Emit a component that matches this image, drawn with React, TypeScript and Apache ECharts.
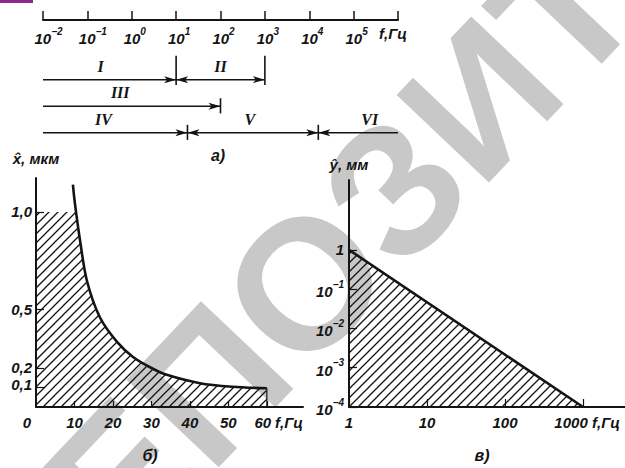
import React, { useEffect, useRef } from 'react';
import * as echarts from 'echarts';

const W = 625;
const H = 468;
const INK = '#141414';
const FONT = 'Liberation Sans';

// ---- Panel а: frequency ranges on a log axis ----
const rangeNames = ['I', 'II', 'III', 'IV', 'V', 'VI'];
const rangeFrom = [0.01, 10, 0.01, 0.01, 18, 16000];
const rangeTo = [10, 1000, 100, 18, 16000, 1e6];
const rangeRow = [1, 1, 2, 3, 3, 3];
const arrowAtFrom = [0, 1, 0, 0, 1, 1];
const arrowAtTo = [1, 1, 1, 1, 1, 0];
const nameAt = [0.2, 100, 0.55, 0.23, 460, 230000];
const boundaryF = [10, 1000, 100, 18, 16000];
const boundaryRow = [1, 1, 2, 3, 3];

// ---- Panel б: amplitude x̂ (мкм) vs f (Гц) ----
const curveF = [9.6, 9.9, 10.4, 11.4, 13.2, 16.6, 21, 25.3, 30, 34, 42.6, 51, 60];
const curveX = [1.14, 1.08, 1.0, 0.86, 0.65, 0.46, 0.335, 0.255, 0.2, 0.165, 0.122, 0.104, 0.096];
const capX = 1.0;
const bLabelsX = [0, 10, 20, 30, 40, 50, 60];
const bTicksX = [10, 20, 30, 40, 50, 60];
const bTicksY = [0.1, 0.2, 0.5, 1.0];

// ---- Panel в: amplitude ŷ (мм) vs f (Гц), log-log ----
const lineF = [1, 1000];
const lineY = [1, 1e-4];

const FS = 15;
const lbl = { fontFamily: FONT, fontStyle: 'italic', fontWeight: 'bold', color: INK } as any;

const rich: any = {
  b: { ...lbl, fontSize: FS, lineHeight: 20, verticalAlign: 'bottom' },
  s: { ...lbl, fontSize: 10, lineHeight: 11, verticalAlign: 'top' },
  n: { ...lbl, fontSize: FS, lineHeight: 15 },
  p1: { width: 6, fontSize: 9 },
  p2: { width: 11, fontSize: 9 },
  z: { ...lbl, fontSize: FS, lineHeight: 15, padding: [0, 18, 0, 0] },
  w: { ...lbl, fontSize: FS, lineHeight: 15, padding: [0, 8, 0, 0] },
  k: { ...lbl, fontSize: FS, lineHeight: 15, padding: [0, 24, 0, 0] },
  f: { ...lbl, fontSize: FS, padding: [0, 10, 0, 0] },
  u: { ...lbl, fontSize: FS, lineHeight: 15, padding: [0, 0, 6, 0] },
};

const pow = (e: number) => {
  const t = String(e).replace('-', '−');
  return `{b|10}{s|${t}}`;
};

const panelText = (text: string, x: number, y: number) => ({
  type: 'text', x, y, z: 10,
  style: {
    text, fill: INK, fontSize: 16, fontStyle: 'italic', fontWeight: 'bold', fontFamily: FONT,
    align: 'center', verticalAlign: 'middle', textAlign: 'center', textVerticalAlign: 'middle',
  },
});

export default function App() {
  const ref = useRef<HTMLDivElement>(null);

  useEffect(() => {
    if (!ref.current) return;
    const chart = echarts.init(ref.current, undefined, { renderer: 'svg' });

    const c = document.createElement('canvas');
    c.width = 9;
    c.height = 9;
    const g = c.getContext('2d')!;
    g.strokeStyle = '#111';
    g.lineWidth = 1.3;
    g.beginPath();
    g.moveTo(-1, 10); g.lineTo(10, -1);
    g.moveTo(-2, 2); g.lineTo(2, -2);
    g.moveTo(7, 11); g.lineTo(11, 7);
    g.stroke();
    const hatch: any = { image: c, repeat: 'repeat', imageWidth: 9, imageHeight: 9 };

    const vTop = 60;
    const eTop = Math.log10(vTop);
    const vGridTop = 180;
    const vGridH = 227;
    const overlayTop = vGridTop + (vGridH * eTop) / (eTop + 4);

    const areaB: number[][] = [[0, capX]];
    curveF.forEach((f, i) => {
      if (curveX[i] <= capX) areaB.push([f, curveX[i]]);
    });

    const axisLine = { show: true, onZero: false, lineStyle: { color: INK, width: 2 } };
    const gb = { outerBoundsMode: 'none', containLabel: false };

    const option: any = {
      animation: false,
      backgroundColor: '#ffffff',
      grid: [
        { left: 43, top: 2, width: 355, height: 18, ...gb },
        { left: 36, top: 178, width: 267, height: 229, ...gb },
        { left: 349, top: vGridTop, width: 276, height: vGridH, ...gb },
        { left: 349, top: overlayTop, width: 276, height: vGridTop + vGridH - overlayTop, ...gb },
        { left: 43, top: 20, width: 355, height: 126, ...gb },
      ],
      xAxis: [
        {
          type: 'log', gridIndex: 0, min: 0.01, max: 1e6, logBase: 10, position: 'bottom', splitNumber: 8,
          axisLine, splitLine: { show: false },
          axisTick: { show: true, inside: true, length: 9, lineStyle: { color: INK, width: 1.5 } },
          axisLabel: {
            margin: 6, showMinLabel: true, showMaxLabel: true, hideOverlap: false, rich,
            formatter: (v: number) => {
              const e = Math.round(Math.log10(v));
              if (e >= 6) return '{f|f,Гц}';
              return `{${e < 0 ? 'p2' : 'p1'}| }` + pow(e);
            },
          },
        },
        {
          type: 'value', gridIndex: 1, min: 0, max: 69.4,
          axisLine, splitLine: { show: false },
          axisTick: { show: true, inside: true, length: 6, customValues: bTicksX, lineStyle: { color: INK, width: 1.2 } },
          axisLabel: {
            customValues: bLabelsX, margin: 8, hideOverlap: false, rich,
            formatter: (v: number) => (v === 0 ? '{z|0}' : v === 60 ? '{w|60}' : `{n|${v}}`),
          },
          name: 'f,Гц', nameLocation: 'end', nameGap: -28, nameMoveOverlap: false,
          nameTextStyle: { ...lbl, fontSize: FS, align: 'left', verticalAlign: 'top', padding: [8, 0, 0, 0] },
        },
        {
          type: 'log', gridIndex: 2, min: 1, max: 3450, logBase: 10,
          axisLine, splitLine: { show: false },
          axisTick: { show: true, inside: true, length: 8, lineStyle: { color: INK, width: 1.2 } },
          axisLabel: {
            margin: 8, rich, showMaxLabel: false, hideOverlap: false,
            formatter: (v: number) => (v > 1001 ? '' : v > 999 ? '{k|1000}' : `{n|${Math.round(v)}}`),
          },
          name: 'f,Гц', nameLocation: 'end', nameGap: -33, nameMoveOverlap: false,
          nameTextStyle: { ...lbl, fontSize: FS, align: 'left', verticalAlign: 'top', padding: [8, 0, 0, 0] },
        },
        { type: 'value', gridIndex: 3, show: false },
        { type: 'log', gridIndex: 4, min: 0.01, max: 1e6, logBase: 10, show: false },
      ],
      yAxis: [
        { type: 'value', gridIndex: 0, min: 0, max: 1, show: false },
        {
          type: 'value', gridIndex: 1, min: 0, max: 1.174,
          axisLine, splitLine: { show: false },
          axisTick: { show: true, inside: true, length: 8, customValues: bTicksY, lineStyle: { color: INK, width: 1.2 } },
          axisLabel: {
            customValues: bTicksY, margin: 4, hideOverlap: false, rich,
            formatter: (v: number) => {
              const t = v.toFixed(1).replace('.', ',');
              return v < 0.15 ? `{u|${t}}` : `{n|${t}}`;
            },
          },
          name: 'x̂, мкм', nameLocation: 'end', nameGap: 12, nameMoveOverlap: false,
          nameTextStyle: { ...lbl, fontSize: FS, align: 'center', verticalAlign: 'bottom' },
        },
        {
          type: 'log', gridIndex: 2, min: 1e-4, max: vTop, logBase: 10,
          axisLine, splitLine: { show: false }, axisTick: { show: false }, axisLabel: { show: false },
          name: 'ŷ, мм', nameLocation: 'end', nameGap: 8, nameMoveOverlap: false,
          nameTextStyle: { ...lbl, fontSize: FS, align: 'center', verticalAlign: 'bottom' },
        },
        {
          type: 'log', gridIndex: 3, min: 1e-4, max: 1, logBase: 10,
          axisLine: { show: false }, splitLine: { show: false },
          axisTick: { show: true, inside: true, length: 8, lineStyle: { color: INK, width: 1.2 } },
          axisLabel: {
            margin: 5, hideOverlap: false, rich,
            formatter: (v: number) => {
              const e = Math.round(Math.log10(v));
              return e === 0 ? '{n|1}' : pow(e);
            },
          },
        },
        { type: 'value', gridIndex: 4, min: -1.25, max: 3.5, inverse: true, show: false },
      ],
      series: [
        {
          type: 'custom', xAxisIndex: 4, yAxisIndex: 4, clip: false, z: 5,
          encode: { x: [0, 1], y: 2 },
          data: rangeFrom.map((f, i) => [f, rangeTo[i], rangeRow[i], arrowAtFrom[i], arrowAtTo[i]]),
          renderItem: (_p: any, api: any) => {
            const a = api.coord([api.value(0), api.value(2)]);
            const b = api.coord([api.value(1), api.value(2)]);
            const y = a[1];
            const kids: any[] = [
              { type: 'line', shape: { x1: a[0], y1: y, x2: b[0], y2: y }, style: { stroke: INK, lineWidth: 1.6 } },
            ];
            const head = (tip: number, dir: number) => ({
              type: 'polygon',
              shape: { points: [[tip, y], [tip - dir * 12, y - 3.5], [tip - dir * 9, y], [tip - dir * 12, y + 3.5]] },
              style: { fill: INK },
            });
            if (api.value(3)) kids.push(head(a[0], -1));
            if (api.value(4)) kids.push(head(b[0], 1));
            return { type: 'group', children: kids };
          },
        },
        {
          type: 'custom', xAxisIndex: 4, yAxisIndex: 4, clip: false, z: 5,
          encode: { x: 0, y: 1 },
          data: boundaryF.map((f, i) => [f, boundaryRow[i]]),
          renderItem: (_p: any, api: any) => {
            const r = api.value(1);
            const up = r === 1 ? 0.9 : 0.3;
            const down = r === 1 ? 0.2 : 0.27;
            const a = api.coord([api.value(0), r - up]);
            const b = api.coord([api.value(0), r + down]);
            return { type: 'line', shape: { x1: a[0], y1: a[1], x2: b[0], y2: b[1] }, style: { stroke: INK, lineWidth: 1.6 } };
          },
        },
        {
          type: 'custom', xAxisIndex: 4, yAxisIndex: 4, clip: false, z: 5,
          encode: { x: 0, y: 1 },
          data: nameAt.map((f, i) => [f, rangeRow[i]]),
          renderItem: (p: any, api: any) => {
            const pt = api.coord([api.value(0), api.value(1) - 0.5]);
            return {
              type: 'text', x: pt[0], y: pt[1],
              style: {
                text: rangeNames[p.dataIndex], fill: INK, fontSize: 16, fontWeight: 'bold', fontStyle: 'italic',
                fontFamily: 'Liberation Serif', align: 'center', verticalAlign: 'middle',
              },
            };
          },
        },
        {
          type: 'line', xAxisIndex: 1, yAxisIndex: 1, symbol: 'none', z: 3,
          data: areaB,
          lineStyle: { width: 0, opacity: 0 },
          areaStyle: { color: hatch, opacity: 1, origin: 'start' },
        },
        {
          type: 'line', xAxisIndex: 1, yAxisIndex: 1, symbol: 'none', smooth: 0.3, z: 4,
          data: curveF.map((f, i) => [f, curveX[i]]),
          lineStyle: { color: INK, width: 2.6 },
        },
        {
          type: 'line', xAxisIndex: 1, yAxisIndex: 1, symbol: 'none', z: 4,
          data: [[curveF[curveF.length - 1], curveX[curveX.length - 1]], [curveF[curveF.length - 1], 0]],
          lineStyle: { color: INK, width: 1.2 },
        },
        {
          type: 'line', xAxisIndex: 2, yAxisIndex: 2, symbol: 'none', z: 4,
          data: lineF.map((f, i) => [f, lineY[i]]),
          lineStyle: { color: INK, width: 2.6 },
          areaStyle: { color: hatch, opacity: 1, origin: 'start' },
        },
      ],
      graphic: [
        {
          type: 'text', x: -6, y: 611, rotation: (46.5 * Math.PI) / 180, z: -10, silent: true,
          style: {
            text: 'РЕПОЗИТОРИЙ', fill: '#c8c8c8', fontSize: 185, fontWeight: 'bold', fontFamily: FONT,
            align: 'left', verticalAlign: 'middle', textAlign: 'left', textVerticalAlign: 'middle',
          },
        },
        { type: 'rect', shape: { x: 0, y: 0, width: 33, height: 3 }, style: { fill: '#8c2a8c' } },
        panelText('а)', 218, 155),
        panelText('б)', 150, 455),
        panelText('в)', 482, 455),
      ],
    };

    chart.setOption(option);
    return () => chart.dispose();
  }, []);

  return <div ref={ref} style={{ position: 'fixed', left: 0, top: 0, width: W, height: H }} />;
}
